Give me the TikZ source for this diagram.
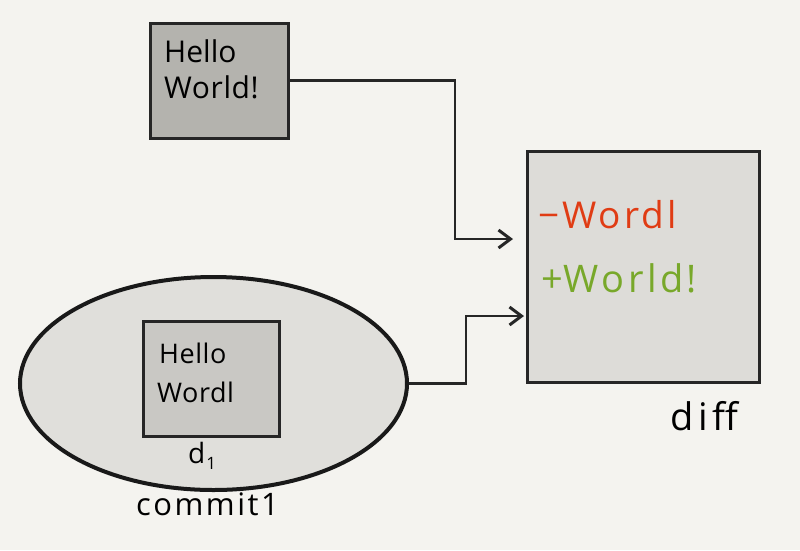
\documentclass[tikz,border=0pt]{standalone}
\usepackage{fontspec}
\setmainfont{Open Sans}
\usetikzlibrary{arrows.meta,shapes.geometric}
\definecolor{bg}{HTML}{F4F3EF}
\definecolor{topgray}{HTML}{B4B3AE}
\definecolor{ellgray}{HTML}{E0DFDB}
\definecolor{innergray}{HTML}{C9C8C4}
\definecolor{diffgray}{HTML}{DDDCD8}
\definecolor{delred}{HTML}{E03C14}
\definecolor{addgreen}{HTML}{78A82A}
\newcommand{\fs}[1]{\fontsize{#1}{#1}\selectfont}
\tikzset{
  boxnode/.style={draw=black!85, line width=3pt, inner sep=0pt, rectangle},
  arr/.style={draw=black!85, line width=2.6pt, -{Straight Barb[length=12pt,width=18pt,line width=3pt]}},
  txt/.style={inner sep=0pt, anchor=base west},
}
\begin{document}
\begin{tikzpicture}[x=1pt,y=-1pt]
\useasboundingbox[fill=bg] (0,0) rectangle (800,550);
% nodes
\node[boxnode, fill=topgray, minimum width=138pt, minimum height=115pt] (top) at (219,80.5) {};
\node[ellipse, draw=black!90, line width=4pt, fill=ellgray, inner sep=0pt,
      minimum width=387pt, minimum height=213pt] (ell) at (213.5,383.5) {};
\node[boxnode, fill=innergray, minimum width=136pt, minimum height=115pt] (inner) at (211,378.5) {};
\node[boxnode, fill=diffgray, minimum width=232pt, minimum height=231pt] (diff) at (643,266.5) {};
% texts
\node[txt] (t1a) at (164,62) {\fs{30}Hello};
\node[txt] (t1b) at (164,98) {\fs{30}\addfontfeature{LetterSpace=2}World!};
\node[txt] (t2a) at (159,363) {\fs{27}\addfontfeature{LetterSpace=2}Hello};
\node[txt] (t2b) at (157,402) {\fs{27}\addfontfeature{LetterSpace=2}Wordl};
\node[txt] (d1) at (188,463) {\fs{28}d\kern1pt\lower6pt\hbox{\fs{17}1}};
\node[txt, text=delred] (del) at (538,228) {\fs{37}\addfontfeature{LetterSpace=8}−\kern3pt Wordl};
\node[txt, text=addgreen] (add) at (541,292) {\fs{38}\addfontfeature{LetterSpace=9}+\kern1pt World!};
\node[txt] (lblc) at (136,515) {\fs{31}\addfontfeature{LetterSpace=8}commit1};
\node[txt] (lbld) at (670,430) {\fs{38}\addfontfeature{LetterSpace=12}diff};
% connectors
\coordinate (e1) at (513,239);
\coordinate (e2) at (524,316);
\draw[arr] (top.east) -| (455,239) -- (e1);
\draw[arr] (ell.east) -| (466,316) -- (e2);
\end{tikzpicture}
\end{document}
